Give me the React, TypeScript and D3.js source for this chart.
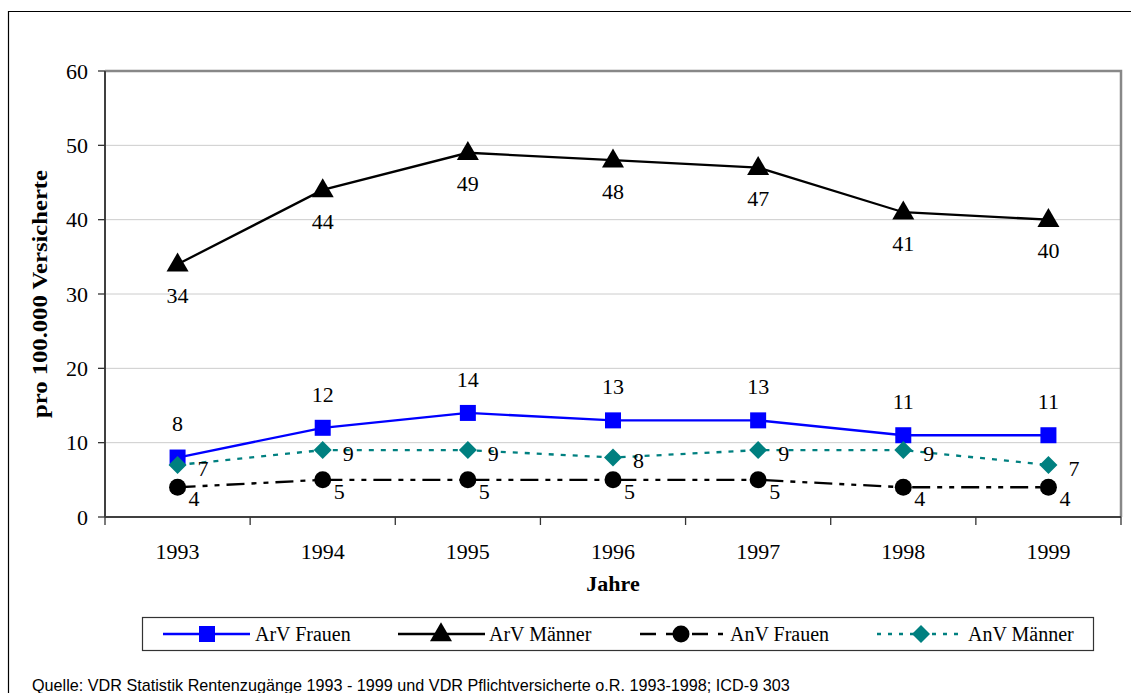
import React from "react";
import * as d3 from "d3";

const years = ["1993", "1994", "1995", "1996", "1997", "1998", "1999"];
const arvFrauen = [8, 12, 14, 13, 13, 11, 11];
const arvMaenner = [34, 44, 49, 48, 47, 41, 40];
const anvFrauen = [4, 5, 5, 5, 5, 4, 4];
const anvMaenner = [7, 9, 9, 8, 9, 9, 7];
const yTicks = [0, 10, 20, 30, 40, 50, 60];

const W = 1131, H = 693;
const L = 105, R = 1121, T = 71, B = 517;
const serif = "'Liberation Serif', 'Times New Roman', serif";

type Marker = "square" | "triangle" | "circle" | "diamond";
const series = [
  { name: "ArV Frauen", values: arvFrauen, color: "#0000FF", dash: "", legDash: "", marker: "square" as Marker, lab: [0, -34] },
  { name: "ArV Männer", values: arvMaenner, color: "#000000", dash: "", legDash: "", marker: "triangle" as Marker, lab: [0, 31] },
  { name: "AnV Frauen", values: anvFrauen, color: "#000000", dash: "18 7 5 7 5 7", legDash: "16 10", marker: "circle" as Marker, lab: [11, 11] },
  { name: "AnV Männer", values: anvMaenner, color: "#008080", dash: "5 7", legDash: "4 7", marker: "diamond" as Marker, lab: [20, 3] },
];

const legendPos = [
  { x0: 163, x1: 250, mx: 207, tx: 255 },
  { x0: 398, x1: 485, mx: 441, tx: 489 },
  { x0: 640, x1: 723, mx: 681, tx: 730 },
  { x0: 877, x1: 965, mx: 921, tx: 968 },
];

function MarkerShape({ type, x, y, color }: { type: Marker; x: number; y: number; color: string }) {
  if (type === "square") return <rect x={x - 8} y={y - 8} width={16} height={16} fill={color} />;
  if (type === "triangle") {
    const s = d3.symbol(d3.symbolTriangle, 210)()!;
    return <path d={s} transform={`translate(${x},${y + 1})`} fill={color} />;
  }
  if (type === "circle") return <circle cx={x} cy={y} r={8.5} fill={color} />;
  return <path d={`M${x},${y - 9}L${x + 9},${y}L${x},${y + 9}L${x - 9},${y}Z`} fill={color} />;
}

export default function App() {
  const x = d3.scaleBand().domain(years).range([L, R]);
  const y = d3.scaleLinear().domain([0, 60]).range([B, T]);
  const cx = (d: string) => (x(d) ?? 0) + x.bandwidth() / 2;
  const line = d3.line<number>().x((_, i) => cx(years[i])).y((v) => y(v));

  return (
    <svg width={W} height={H} style={{ display: "block", position: "absolute", left: 0, top: 0 }}>
      <rect x={0} y={0} width={W} height={H} fill="#fff" />
      <path d={`M8.5,${H + 5}V11.5H1140`} fill="none" stroke="#000" strokeWidth={1.2} />
      {yTicks.filter((t) => t > 0 && t < 60).map((t) => (
        <line key={t} x1={L} x2={R} y1={y(t)} y2={y(t)} stroke="#cccccc" strokeWidth={1} />
      ))}
      <path d={`M${L},${T}H${R}V${B}`} fill="none" stroke="#888" strokeWidth={2.5} />
      <line x1={L} x2={L} y1={T} y2={B} stroke="#404040" strokeWidth={2} />
      <line x1={L} x2={R} y1={B} y2={B} stroke="#404040" strokeWidth={2} />
      {yTicks.map((t) => (
        <g key={t}>
          <line x1={L - 7} x2={L} y1={y(t)} y2={y(t)} stroke="#333" strokeWidth={1.3} />
          <text x={L - 17} y={y(t)} dy="0.35em" textAnchor="end" fontFamily={serif} fontSize={22}>{t}</text>
        </g>
      ))}
      {years.map((yr) => (
        <g key={yr}>
          <line x1={x(yr) ?? 0} x2={x(yr) ?? 0} y1={B} y2={B + 8} stroke="#333" strokeWidth={1.3} />
          <text x={cx(yr)} y={559} textAnchor="middle" fontFamily={serif} fontSize={22}>{yr}</text>
        </g>
      ))}
      <line x1={R} x2={R} y1={B} y2={B + 8} stroke="#333" strokeWidth={1.3} />
      <text x={(L + R) / 2} y={591} textAnchor="middle" fontFamily={serif} fontSize={22} fontWeight="bold">Jahre</text>
      <text transform={`translate(47,${(T + B) / 2}) rotate(-90)`} textAnchor="middle" fontFamily={serif}
        fontSize={22} fontWeight="bold" textLength={248} lengthAdjust="spacingAndGlyphs">pro 100.000 Versicherte</text>

      {series.map((s) => (
        <path key={s.name} d={line(s.values)!} fill="none" stroke={s.color} strokeWidth={2.3} strokeDasharray={s.dash} />
      ))}
      {series.map((s) => (
        <g key={s.name + "m"}>
          {s.values.map((v, i) => (
            <MarkerShape key={i} type={s.marker} x={cx(years[i])} y={y(v)} color={s.color} />
          ))}
        </g>
      ))}
      {series.map((s) => (
        <g key={s.name + "l"}>
          {s.values.map((v, i) => (
            <text key={i} x={cx(years[i]) + s.lab[0]} y={y(v) + s.lab[1]} dy="0.35em"
              textAnchor={s.lab[0] > 0 ? "start" : "middle"} fontFamily={serif} fontSize={22}>{v}</text>
          ))}
        </g>
      ))}

      <rect x={142.5} y={617.5} width={951} height={33} fill="#fff" stroke="#333" strokeWidth={1.2} />
      {series.map((s, i) => {
        const p = legendPos[i];
        return (
          <g key={s.name + "leg"}>
            <line x1={p.x0} x2={p.x1} y1={634} y2={634} stroke={s.color} strokeWidth={2.3} strokeDasharray={s.legDash} />
            <MarkerShape type={s.marker} x={p.mx} y={634} color={s.color} />
            <text x={p.tx} y={634} dy="0.35em" fontFamily={serif} fontSize={20}>{s.name}</text>
          </g>
        );
      })}
      <text x={32} y={691} fontFamily="'Liberation Sans', Arial, sans-serif" fontSize={16.2}>
        Quelle: VDR Statistik Rentenzugänge 1993 - 1999 und VDR Pflichtversicherte o.R. 1993-1998; ICD-9 303
      </text>
    </svg>
  );
}
